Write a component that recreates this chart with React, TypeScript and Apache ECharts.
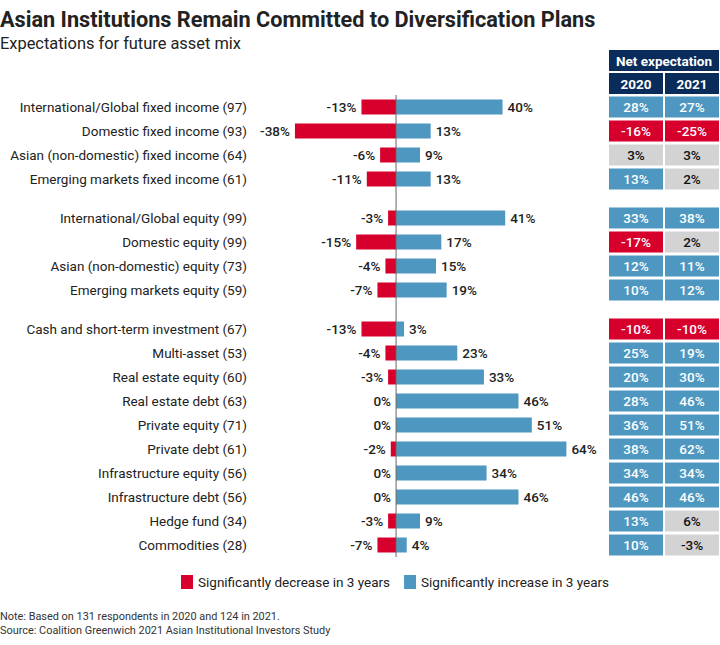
import React, { useEffect, useRef } from "react";
import * as echarts from "echarts";

const groupCategories: string[][] = [
  [
    "International/Global fixed income (97)",
    "Domestic fixed income (93)",
    "Asian (non-domestic) fixed income (64)",
    "Emerging markets fixed income (61)",
  ],
  [
    "International/Global equity (99)",
    "Domestic equity (99)",
    "Asian (non-domestic) equity (73)",
    "Emerging markets equity (59)",
  ],
  [
    "Cash and short-term investment (67)",
    "Multi-asset (53)",
    "Real estate equity (60)",
    "Real estate debt (63)",
    "Private equity (71)",
    "Private debt (61)",
    "Infrastructure equity (56)",
    "Infrastructure debt (56)",
    "Hedge fund (34)",
    "Commodities (28)",
  ],
];

const decrease: number[][] = [
  [-13, -38, -6, -11],
  [-3, -15, -4, -7],
  [-13, -4, -3, 0, 0, -2, 0, 0, -3, -7],
];

const increase: number[][] = [
  [40, 13, 9, 13],
  [41, 17, 15, 19],
  [3, 23, 33, 46, 51, 64, 34, 46, 9, 4],
];

const net2020: number[][] = [
  [28, -16, 3, 13],
  [33, -17, 12, 10],
  [-10, 25, 20, 28, 36, 38, 34, 46, 13, 10],
];

const net2021: number[][] = [
  [27, -25, 3, 2],
  [38, 2, 11, 12],
  [-10, 19, 30, 46, 51, 62, 34, 46, 6, -3],
];

const years = ["2020", "2021"];
const decName = "Significantly decrease in 3 years";
const incName = "Significantly increase in 3 years";

const RED = "#D7002D";
const BLUE = "#4E97C1";
const GRAY = "#D3D3D3";
const NAVY = "#0A2C5A";
const FONT = "Roboto";

const ROW = 24;
const groupTops = [95, 206, 317];
const BAR_LEFT = 263;
const BAR_WIDTH = 346;
const X_MIN = -50;
const X_MAX = 80;
const TABLE_LEFT = 608;
const TABLE_WIDTH = 112;

function cellColor(v: number) {
  if (v >= 10) return BLUE;
  if (v <= -10) return RED;
  return GRAY;
}

export default function App() {
  const ref = useRef<HTMLDivElement>(null);
  useEffect(() => {
    document.body.style.margin = "0";
    if (!ref.current) return;
    const chart = echarts.init(ref.current, null, { renderer: "svg" });

    const grids: any[] = [];
    const xAxes: any[] = [];
    const yAxes: any[] = [];
    const series: any[] = [];

    groupCategories.forEach((cats, g) => {
      const top = groupTops[g];
      const height = cats.length * ROW;
      const bi = grids.length;
      grids.push({ left: BAR_LEFT, top, width: BAR_WIDTH, height });
      xAxes.push({
        type: "value",
        gridIndex: bi,
        min: X_MIN,
        max: X_MAX,
        show: false,
      });
      yAxes.push({
        type: "category",
        gridIndex: bi,
        data: cats,
        inverse: true,
        axisLine: { show: false },
        axisTick: { show: false },
        splitLine: { show: false },
        axisLabel: {
          margin: 16,
          color: "#222",
          fontFamily: FONT,
          fontSize: 13.5,
        },
      });
      series.push({
        name: decName,
        type: "bar",
        xAxisIndex: bi,
        yAxisIndex: bi,
        stack: "s" + g,
        barWidth: 15,
        data: decrease[g],
        itemStyle: { color: RED },
        label: {
          show: true,
          position: "left",
          distance: 5,
          formatter: (p: any) => `${p.value}%`,
          color: "#222",
          fontFamily: FONT,
          fontSize: 13.5,
          fontWeight: 500,
        },
      });
      series.push({
        name: incName,
        type: "bar",
        xAxisIndex: bi,
        yAxisIndex: bi,
        stack: "s" + g,
        barWidth: 15,
        data: increase[g],
        itemStyle: { color: BLUE },
        label: {
          show: true,
          position: "right",
          distance: 5,
          formatter: (p: any) => `${p.value}%`,
          color: "#222",
          fontFamily: FONT,
          fontSize: 13.5,
          fontWeight: 500,
        },
      });

      const ti = grids.length;
      grids.push({ left: TABLE_LEFT, top, width: TABLE_WIDTH, height });
      xAxes.push({ type: "category", gridIndex: ti, data: years, show: false });
      yAxes.push({
        type: "category",
        gridIndex: ti,
        data: cats,
        inverse: true,
        show: false,
      });
      const cells: number[][] = [];
      cats.forEach((_, r) => {
        cells.push([0, r, net2020[g][r]]);
        cells.push([1, r, net2021[g][r]]);
      });
      series.push({
        type: "custom",
        xAxisIndex: ti,
        yAxisIndex: ti,
        data: cells,
        renderItem: (params: any, api: any) => {
          const c = api.coord([api.value(0), api.value(1)]);
          const s = api.size([1, 1]);
          const v = api.value(2);
          const w = s[0] - 2;
          const h = s[1] - 3;
          const fill = cellColor(v);
          return {
            type: "rect",
            shape: { x: c[0] - w / 2, y: c[1] - h / 2, width: w, height: h },
            style: { fill },
            textContent: {
              style: {
                text: `${v}%`,
                fill: fill === GRAY ? "#111" : "#fff",
                fontFamily: FONT,
                fontSize: 13.5,
                fontWeight: 500,
              },
            },
            textConfig: { position: "inside" },
          };
        },
      });
    });

    const zeroX = BAR_LEFT + ((0 - X_MIN) / (X_MAX - X_MIN)) * BAR_WIDTH;
    const lastTop = groupTops[groupTops.length - 1];
    const lastBottom =
      lastTop + groupCategories[groupCategories.length - 1].length * ROW;

    const headerText = (text: string) => ({
      text,
      fill: "#fff",
      fontFamily: FONT,
      fontSize: 13.5,
      fontWeight: "bold",
    });

    chart.setOption({
      animation: false,
      title: [
        {
          text: "Asian Institutions Remain Committed to Diversification Plans",
          left: 0,
          top: 8,
          padding: 0,
          textStyle: {
            fontFamily: FONT,
            fontSize: 21.7,
            fontWeight: "bold",
            color: "#222",
          },
        },
        {
          text: "Expectations for future asset mix",
          left: 0,
          top: 35,
          padding: 0,
          textStyle: {
            fontFamily: FONT,
            fontSize: 16.4,
            fontWeight: "normal",
            color: "#222",
          },
        },
        {
          text: "Note: Based on 131 respondents in 2020 and 124 in 2021.",
          left: 0,
          top: 611,
          padding: 0,
          textStyle: {
            fontFamily: FONT,
            fontSize: 10.9,
            fontWeight: "normal",
            color: "#333",
          },
        },
        {
          text: "Source: Coalition Greenwich 2021 Asian Institutional Investors Study",
          left: 0,
          top: 625,
          padding: 0,
          textStyle: {
            fontFamily: FONT,
            fontSize: 10.9,
            fontWeight: "normal",
            color: "#333",
          },
        },
      ],
      legend: {
        data: [decName, incName],
        left: 181,
        top: 575,
        padding: 0,
        icon: "rect",
        itemWidth: 12,
        itemHeight: 14,
        itemGap: 14,
        textStyle: { fontFamily: FONT, fontSize: 13.5, color: "#222" },
      },
      grid: grids,
      xAxis: xAxes,
      yAxis: yAxes,
      series,
      graphic: [
        {
          type: "line",
          shape: { x1: zeroX, y1: groupTops[0], x2: zeroX, y2: lastBottom },
          style: { stroke: "#666", lineWidth: 1 },
          z: 100,
        },
        {
          type: "rect",
          shape: { x: TABLE_LEFT + 1, y: 50, width: TABLE_WIDTH - 2, height: 21 },
          style: { fill: NAVY },
          textContent: { style: headerText("Net expectation") },
          textConfig: { position: "inside" },
        },
        ...years.map((y, i) => ({
          type: "rect",
          shape: {
            x: TABLE_LEFT + 1 + i * (TABLE_WIDTH / 2),
            y: 73,
            width: TABLE_WIDTH / 2 - 2,
            height: 21,
          },
          style: { fill: NAVY },
          textContent: { style: headerText(y) },
          textConfig: { position: "inside" },
        })),
      ],
    });
    return () => chart.dispose();
  }, []);
  return <div ref={ref} style={{ width: 720, height: 645 }} />;
}
